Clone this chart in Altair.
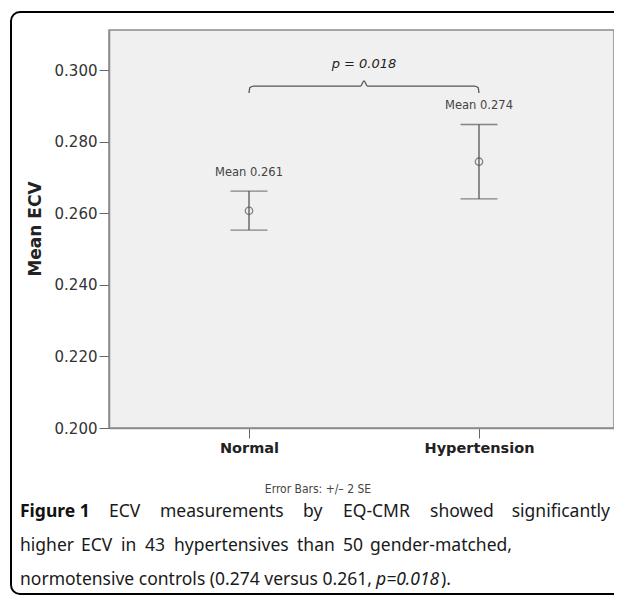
import altair as alt
import pandas as pd

# ---- data ----
categories = ["Normal", "Hypertension"]
means = [0.2607, 0.2744]
upper = [0.2662, 0.2848]
lower = [0.2553, 0.2640]
mean_labels = ["Mean 0.261", "Mean 0.274"]
y_ticks = [0.200, 0.220, 0.240, 0.260, 0.280, 0.300]
p_text = "p = 0.018"
bracket_x = [0.0, 0.004, 0.02, 0.485, 0.5, 0.515, 0.98, 0.996, 1.0]
bracket_y = [0.2936, 0.2951, 0.2955, 0.2955, 0.2970, 0.2955, 0.2955, 0.2951, 0.2936]
caption_bold = "Figure 1"
caption_line1 = ["ECV", "measurements", "by", "EQ-CMR", "showed", "significantly"]
caption_line2 = ["higher", "ECV", "in", "43", "hypertensives", "than", "50", "gender-matched,"]
caption_line3 = "normotensive controls (0.274 versus 0.261, "
caption_p = "p=0.018"
caption_end = ")."
footnote = "Error Bars: +/\u2013 2 SE"

# ---- layout (page pixels -> plot coordinates) ----
OX, OY = 109, 30          # plot origin on the page
W, H = 505, 398
PAD_L, PAD_T = OX - 8, OY - 8
VIEW_W, VIEW_H = 606, 588

df = pd.DataFrame({"idx": list(range(len(categories))), "cat": categories,
                   "mean": means, "upper": upper, "lower": lower, "lab": mean_labels})
bdf = pd.DataFrame({"bx": bracket_x, "by": bracket_y, "o": list(range(len(bracket_x)))})
one = pd.DataFrame({"a": [0]})

label_expr = " : ".join([f"datum.value == {i} ? '{c}'" for i, c in enumerate(categories)]) + " : ''"

xs = alt.Scale(domain=[-0.6087, 1.587], nice=False, zero=False)
ys = alt.Scale(domain=[0.200, 0.3112], nice=False, zero=False)
LINE = "#555555"
FONT = "DejaVu Sans"

x_axis = alt.Axis(values=list(range(len(categories))), labelExpr=label_expr, title=None,
                  grid=False, labelFont=FONT, labelFontSize=14.5, labelFontWeight="bold",
                  labelColor="#222222", tickSize=10, tickColor="#666666",
                  domainColor="#8a8a8a", domainWidth=1.5, labelPadding=3)
y_axis = alt.Axis(values=y_ticks, format=".3f", title=None, grid=False, labelFont=FONT,
                  labelFontSize=15, labelColor="#333333", tickSize=10,
                  tickColor="#666666", domainColor="#8a8a8a", domainWidth=1.5, labelPadding=2)

base = alt.Chart(df)
stems = base.mark_rule(color=LINE, strokeWidth=1.3).encode(
    x=alt.X("idx:Q", scale=xs, axis=x_axis),
    y=alt.Y("lower:Q", scale=ys, axis=y_axis),
    y2="upper:Q")
cap_hi = base.mark_tick(orient="horizontal", size=37, thickness=1.3, color=LINE).encode(
    x=alt.X("idx:Q", scale=xs), y=alt.Y("upper:Q", scale=ys))
cap_lo = base.mark_tick(orient="horizontal", size=37, thickness=1.3, color=LINE).encode(
    x=alt.X("idx:Q", scale=xs), y=alt.Y("lower:Q", scale=ys))
pts = base.mark_point(shape="circle", size=55, filled=False, color=LINE, strokeWidth=1.3).encode(
    x=alt.X("idx:Q", scale=xs), y=alt.Y("mean:Q", scale=ys))
labs = base.mark_text(font=FONT, fontSize=11.5, color="#444444", dy=-18, baseline="middle").encode(
    x=alt.X("idx:Q", scale=xs), y=alt.Y("upper:Q", scale=ys), text="lab:N")

bracket = alt.Chart(bdf).mark_line(color=LINE, strokeWidth=1.3, interpolate="monotone").encode(
    x=alt.X("bx:Q", scale=xs), y=alt.Y("by:Q", scale=ys), order="o:Q")
ptxt = alt.Chart(one).mark_text(text=p_text, font=FONT, fontSize=13, fontStyle="italic",
                                color="#222222", baseline="middle").encode(
    x=alt.value(364 - OX), y=alt.value(64 - OY))


def txt(s, x, y, align="left", **kw):
    return alt.Chart(one).mark_text(text=s, align=align, baseline="middle", **kw).encode(
        x=alt.value(x - OX), y=alt.value(y - OY))


ytitle = alt.Chart(one).mark_text(text="Mean ECV", font=FONT, fontSize=17, fontWeight="bold",
                                  angle=270, baseline="middle", color="#222222").encode(
    x=alt.value(36 - OX), y=alt.value(H / 2))
foot = txt(footnote, 318, 489, align="center", font="DejaVu Sans Condensed", fontSize=12,
           color="#444444")

CF = "Noto Sans"
FS = 17.5
CC = "#1a1a1a"
L1, L2, L3 = 512, 546, 580
layers = [txt(caption_bold, 20, L1, font=CF, fontSize=FS, fontWeight="bold", color="#111111")]
line1_x = [109, 160, 303, 343, 430]
for w, x in zip(caption_line1[:-1], line1_x):
    layers.append(txt(w, x, L1, font=CF, fontSize=FS, color=CC))
layers.append(txt(caption_line1[-1], 610, L1, align="right", font=CF, fontSize=FS, color=CC))
line2_x = [20, 81, 121, 145, 174, 297, 343]
for w, x in zip(caption_line2[:-1], line2_x):
    layers.append(txt(w, x, L2, font=CF, fontSize=FS, color=CC))
layers.append(txt(caption_line2[-1], 512, L2, align="right", font=CF, fontSize=FS, color=CC))
layers.append(txt(caption_line3, 20, L3, font=CF, fontSize=FS, color=CC))
layers.append(txt(caption_p, 376, L3, font=CF, fontSize=FS, fontStyle="italic", color=CC))
layers.append(txt(caption_end, 441, L3, font=CF, fontSize=FS, color=CC))

frame = alt.Chart(one).mark_rect(fill=None, stroke="#000000", strokeWidth=2, cornerRadius=9).encode(
    x=alt.value(11 - OX), x2=alt.value(640 - OX), y=alt.value(12 - OY), y2=alt.value(594 - OY))

chart = alt.layer(frame, stems, cap_hi, cap_lo, pts, labs, bracket, ptxt, ytitle, foot,
                  *layers).properties(
    width=W, height=H,
    autosize=alt.AutoSizeParams(type="none"),
    padding={"left": PAD_L, "top": PAD_T, "right": VIEW_W - PAD_L - W,
             "bottom": VIEW_H - PAD_T - H},
).configure(background="#ffffff").configure_view(fill="#f0f0f0", stroke="#8a8a8a", strokeWidth=1.5)

chart.save("out.html", embed_options={"renderer": "svg", "actions": False})
